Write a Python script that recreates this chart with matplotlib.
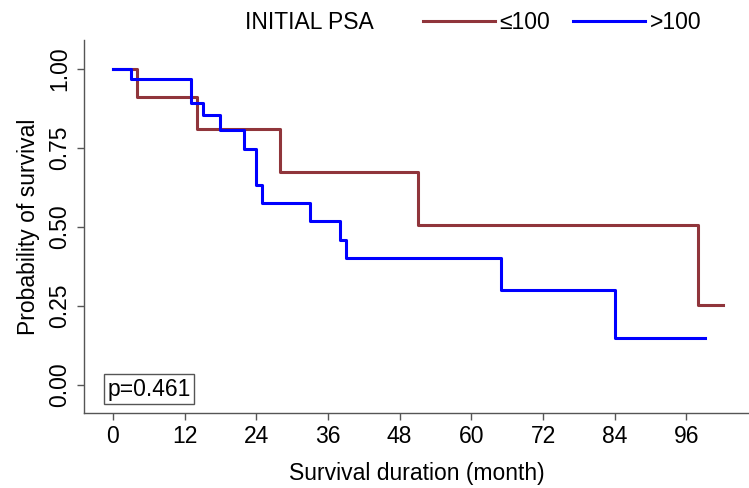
import matplotlib
matplotlib.use("Agg")
import matplotlib.pyplot as plt

plt.rcParams["font.family"] = ["Liberation Sans", "DejaVu Sans"]

# Kaplan-Meier steps
low_months = [0, 4, 14, 28, 51, 98, 102.2]
low_surv = [1.0, 0.909, 0.808, 0.673, 0.505, 0.252, 0.252]

high_months = [0, 3, 13, 15, 18, 22, 24, 25, 33, 38, 39, 65, 84, 99.2]
high_surv = [1.0, 0.968, 0.892, 0.852, 0.806, 0.747, 0.631, 0.574,
             0.517, 0.458, 0.401, 0.301, 0.150, 0.150]

x_ticks = [0, 12, 24, 36, 48, 60, 72, 84, 96]
y_ticks = [0.0, 0.25, 0.5, 0.75, 1.0]
group_labels = ["\u2264100", ">100"]

fs = 16.5

fig = plt.figure(figsize=(7.49, 4.88), dpi=100)
ax = fig.add_axes([0.1121, 0.1537, 0.888, 0.7643])

red = "#90353B"
blue = "#0000FF"
l1, = ax.step(low_months, low_surv, where="post", color=red, lw=2.2)
l2, = ax.step(high_months, high_surv, where="post", color=blue, lw=2.2)

ax.set_xlim(-4.86, 106.5)
ax.set_ylim(-0.088, 1.09)
ax.set_xticks(x_ticks)
ax.set_yticks(y_ticks)
ax.set_yticklabels([f"{v:.2f}" for v in y_ticks], rotation=90, va="center")

for side in ["top", "right"]:
    ax.spines[side].set_visible(False)
for side in ["left", "bottom"]:
    ax.spines[side].set_color("#555555")
    ax.spines[side].set_linewidth(1.0)
ax.tick_params(direction="out", length=5, width=1, color="#555555",
               labelsize=fs, pad=4)

ax.set_xlabel("Survival duration (month)", fontsize=fs, labelpad=10)
ax.set_ylabel("Probability of survival", fontsize=fs, labelpad=6)

ax.text(0.035, 0.064, "p=0.461", transform=ax.transAxes, fontsize=fs,
        va="center", ha="left",
        bbox=dict(boxstyle="square,pad=0.15", fc="white", ec="#555555", lw=1))

fig.text(0.327, 0.953, "INITIAL PSA", fontsize=fs, va="center", ha="left")
fig.legend([l1, l2], group_labels, loc="center left",
           bbox_to_anchor=(0.565, 0.953), ncol=2, frameon=False,
           fontsize=fs, handlelength=3.14, handletextpad=0.2,
           columnspacing=1.0, borderpad=0, borderaxespad=0)

fig.savefig("out.png", dpi=100)
